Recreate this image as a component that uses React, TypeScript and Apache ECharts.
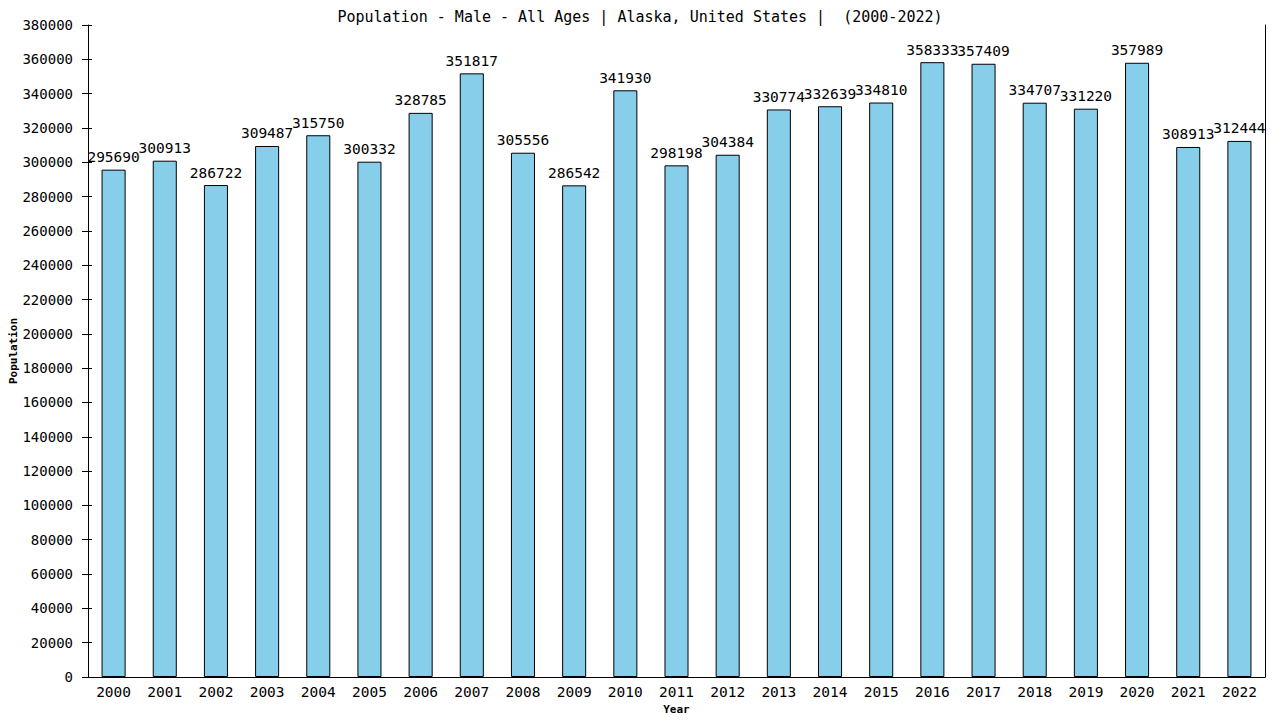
import { useEffect, useRef } from "react";
import * as echarts from "echarts";

const years = [
  "2000", "2001", "2002", "2003", "2004", "2005", "2006", "2007", "2008", "2009", "2010", "2011",
  "2012", "2013", "2014", "2015", "2016", "2017", "2018", "2019", "2020", "2021", "2022",
];
const population = [
  295690, 300913, 286722, 309487, 315750, 300332, 328785, 351817, 305556, 286542, 341930, 298198,
  304384, 330774, 332639, 334810, 358333, 357409, 334707, 331220, 357989, 308913, 312444,
];
const yMin = 0;
const yMax = 380000;
const yStep = 20000;

const FONT = "DejaVu Sans Mono";

export default function App() {
  const chartRef = useRef<HTMLDivElement>(null);

  useEffect(() => {
    if (!chartRef.current) return;
    const chart = echarts.init(chartRef.current, undefined, { renderer: "svg" });
    const option = {
      animation: false,
      backgroundColor: "#fff",
      title: {
        text: "Population - Male - All Ages | Alaska, United States |  (2000-2022)",
        left: "center",
        top: 4,
        textStyle: { fontFamily: FONT, fontSize: 15, fontWeight: "normal", color: "#000" },
      },
      grid: { left: 88, right: 15, top: 25, bottom: 43, containLabel: false, outerBoundsMode: "none" },
      xAxis: {
        type: "category",
        data: years,
        name: "Year",
        nameLocation: "middle",
        nameGap: 26,
        nameTextStyle: { fontFamily: FONT, fontSize: 11, fontWeight: "bold", color: "#000" },
        axisLine: { lineStyle: { color: "#000", width: 1 } },
        axisTick: { show: false },
        axisLabel: { fontFamily: FONT, fontSize: 14.5, color: "#000", margin: 7 },
      },
      yAxis: [
        {
          type: "value",
          min: yMin,
          max: yMax,
          interval: yStep,
          position: "left",
          name: "Population",
          nameLocation: "middle",
          nameGap: 69,
          nameMoveOverlap: false,
          nameTextStyle: { fontFamily: FONT, fontSize: 11, fontWeight: "bold", color: "#000" },
          axisLine: { show: true, lineStyle: { color: "#000", width: 1 } },
          axisTick: { show: true, length: 6, lineStyle: { color: "#000" } },
          axisLabel: {
            fontFamily: FONT,
            fontSize: 14,
            color: "#000",
            margin: 15,
            formatter: (v: number) => String(v),
          },
          splitLine: { show: false },
        },
        {
          type: "value",
          min: yMin,
          max: yMax,
          interval: yStep,
          position: "left",
          offset: 0,
          axisLine: { show: false },
          axisTick: { show: true, inside: true, length: 4, lineStyle: { color: "#000" } },
          axisLabel: { show: false },
          splitLine: { show: false },
        },
        {
          type: "value",
          min: yMin,
          max: yMax,
          interval: yStep,
          position: "right",
          axisLine: { show: true, lineStyle: { color: "#000", width: 1 } },
          axisTick: { show: false },
          axisLabel: { show: false },
          splitLine: { show: false },
        },
      ],
      series: [
        {
          type: "bar",
          data: population,
          yAxisIndex: 0,
          barWidth: "47%",
          itemStyle: { color: "#87CEEB", borderColor: "#000", borderWidth: 1 },
          label: {
            show: true,
            position: "top",
            distance: 5,
            fontFamily: FONT,
            fontSize: 14.5,
            color: "#000",
          },
        },
      ],
    };
    chart.setOption(option);
    return () => {
      chart.dispose();
    };
  }, []);

  return (
    <div
      ref={chartRef}
      style={{ position: "fixed", left: 0, top: 0, width: "1280px", height: "720px" }}
    ></div>
  );
}
